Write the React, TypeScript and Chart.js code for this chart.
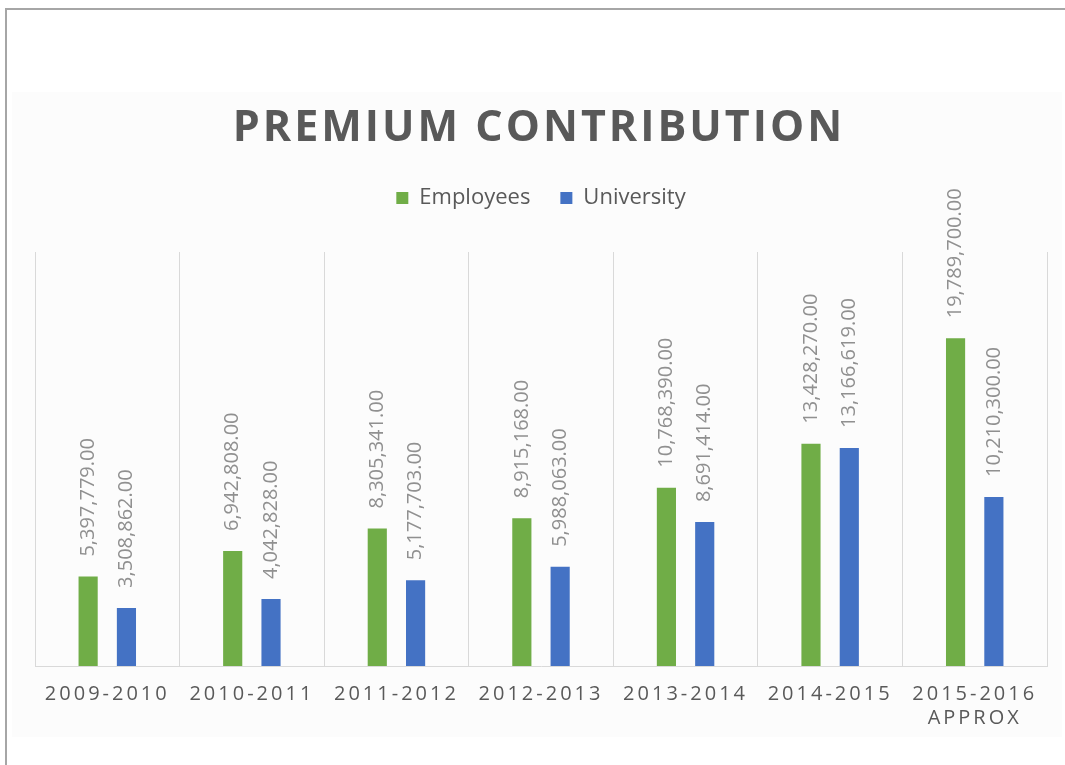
import React, { useEffect, useRef } from "react";
import { Chart, registerables } from "chart.js";

Chart.register(...registerables);

const TITLE = "PREMIUM CONTRIBUTION";
const categories: (string | string[])[] = [
  "2009-2010",
  "2010-2011",
  "2011-2012",
  "2012-2013",
  "2013-2014",
  "2014-2015",
  ["2015-2016", "APPROX"],
];
const employees = [5397779, 6942808, 8305341, 8915168, 10768390, 13428270, 19789700];
const university = [3508862, 4042828, 5177703, 5988063, 8691414, 13166619, 10210300];
const seriesNames = ["Employees", "University"];
const seriesColors = ["#70ad47", "#4472c4"];

const FONT = '"Open Sans", "Liberation Sans", sans-serif';

const fmt = (v: number) =>
  v.toLocaleString("en-US", { minimumFractionDigits: 2, maximumFractionDigits: 2 });

const decorPlugin = {
  id: "decor",
  beforeDraw(chart: any) {
    chart.ctx.letterSpacing = "0px";
  },
  afterDatasetsDraw(chart: any) {
    const ctx = chart.ctx;
    ctx.save();
    ctx.letterSpacing = "0px";
    ctx.font = `20px ${FONT}`;
    ctx.fillStyle = "#909090";
    ctx.textAlign = "left";
    ctx.textBaseline = "middle";
    chart.data.datasets.forEach((ds: any, di: number) => {
      const meta = chart.getDatasetMeta(di);
      meta.data.forEach((bar: any, i: number) => {
        ctx.save();
        ctx.translate(bar.x, bar.y - 20);
        ctx.rotate(-Math.PI / 2);
        ctx.fillText(fmt(ds.data[i]), 0, 0);
        ctx.restore();
      });
    });
    ctx.restore();
    // tick labels (drawn after datasets, z=1) get letter spacing
    ctx.letterSpacing = "3px";
  },
  afterDraw(chart: any) {
    const ctx = chart.ctx;
    const area = chart.chartArea;
    ctx.save();
    ctx.letterSpacing = "3px";
    ctx.font = `bold 43px ${FONT}`;
    ctx.fillStyle = "#595959";
    ctx.textAlign = "center";
    ctx.textBaseline = "middle";
    ctx.fillText(TITLE, (area.left + area.right) / 2 - 2, 129);
    ctx.restore();
    ctx.letterSpacing = "0px";
  },
};

export default function App() {
  const ref = useRef<HTMLCanvasElement | null>(null);
  useEffect(() => {
    if (!ref.current) return;
    const chart = new Chart(ref.current, {
      type: "bar",
      data: {
        labels: categories,
        datasets: [
          {
            label: seriesNames[0],
            data: employees,
            backgroundColor: seriesColors[0],
            categoryPercentage: 0.53,
            barPercentage: 0.5,
          },
          {
            label: seriesNames[1],
            data: university,
            backgroundColor: seriesColors[1],
            categoryPercentage: 0.53,
            barPercentage: 0.5,
          },
        ],
      },
      options: {
        animation: false,
        responsive: false,
        maintainAspectRatio: false,
        layout: { padding: { top: 157, left: 35, right: 18, bottom: 19 } },
        plugins: {
          title: { display: false },
          subtitle: {
            display: true,
            text: "",
            weight: 500,
            font: { size: 10, lineHeight: 1 },
            padding: { top: 23, bottom: 0 },
          } as any,
          legend: {
            display: true,
            position: "top",
            labels: {
              boxWidth: 12,
              boxHeight: 12,
              padding: 30,
              color: "#595959",
              font: { family: FONT, size: 22 },
            },
          },
          tooltip: { enabled: false },
        },
        scales: {
          x: {
            grid: { display: true, color: "#d9d9d9", drawTicks: false, offset: true },
            border: { display: true, color: "#d9d9d9" },
            ticks: {
              z: 1,
              color: "#595959",
              padding: 16,
              maxRotation: 0,
              autoSkip: false,
              font: { family: FONT, size: 20, lineHeight: 1.2 },
            },
          },
          y: {
            display: false,
            min: 0,
            max: 25000000,
          },
        },
      },
      plugins: [decorPlugin],
    });
    return () => chart.destroy();
  }, []);

  return (
    <div
      style={{
        position: "fixed",
        left: 0,
        top: 0,
        width: 1065,
        height: 765,
        background: "#ffffff",
        overflow: "hidden",
      }}
    >
      <div
        style={{
          position: "absolute",
          left: 12,
          top: 92,
          width: 1050,
          height: 645,
          background: "#fcfcfc",
        }}
      />
      <canvas
        ref={ref}
        width={1065}
        height={765}
        style={{ position: "absolute", left: 0, top: 0, width: 1065, height: 765 }}
      />
      <div
        style={{
          position: "absolute",
          left: 5,
          top: 8,
          right: 0,
          bottom: 0,
          borderTop: "2px solid #a6a6a6",
          borderLeft: "2px solid #a6a6a6",
        }}
      />
    </div>
  );
}
